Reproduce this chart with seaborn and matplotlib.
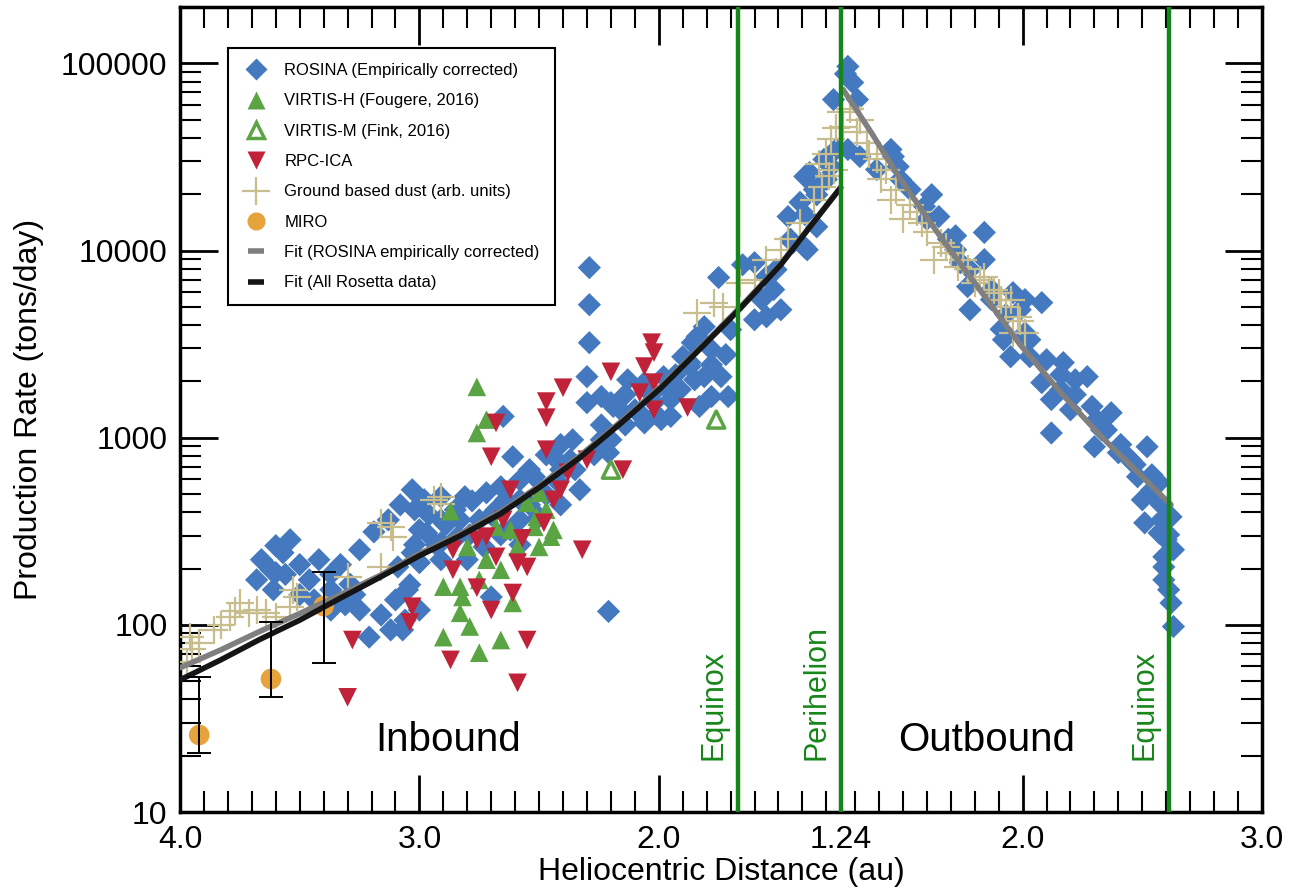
import matplotlib
matplotlib.use("Agg")
import matplotlib.pyplot as plt
import matplotlib.ticker as mticker
from matplotlib.lines import Line2D
import numpy as np
import pandas as pd
import seaborn as sns

# --- data (heliocentric distance r in au, production rate Q in tons/day) ---
PERIHELION = 1.24
EQUINOX_IN = 1.67
EQUINOX_OUT = 2.61

rosina_in_r = [3.68, 3.66, 3.60, 3.54, 3.56, 3.50, 3.44, 3.37, 3.31, 3.25, 3.16, 3.12, 3.21, 3.06, 3.04,
               3.50, 3.42, 3.33, 3.25, 3.19, 3.13, 3.08, 3.03, 2.98, 3.00, 2.93, 3.37, 3.29, 3.57, 3.09,
               3.03, 2.97, 2.91, 2.84, 2.78, 2.72, 2.66, 2.91, 2.61, 2.65, 2.52, 2.44, 2.36, 2.30, 2.29,
               2.24, 2.19, 2.13, 2.08, 1.99, 1.96, 1.87, 1.86, 3.00, 3.05, 3.07, 2.80, 2.73, 2.62, 2.50,
               2.33, 2.21, 2.70, 2.29, 2.29, 1.75, 1.81, 1.78, 1.81, 1.74, 1.78, 2.06, 1.98, 2.20, 2.30,
               2.02, 1.95, 1.84, 1.87, 1.71, 1.83, 2.06, 2.21, 1.90, 1.60, 1.52, 1.49, 1.55, 1.46, 1.41,
               1.39, 1.35, 1.28, 1.38, 1.34, 1.44, 1.55, 1.27, 1.37, 1.39, 1.31, 1.65, 2.85, 2.81, 2.58,
               2.54, 2.47, 2.41, 2.41, 2.24, 2.16, 2.24, 2.37, 2.14, 2.03, 1.93, 2.91, 3.02, 2.68, 2.58,
               3.61, 3.60, 2.89, 2.83, 2.79, 2.70, 2.64, 2.58, 2.54, 2.47, 2.43, 2.39, 2.35, 2.27, 2.20,
               2.14, 2.10, 2.01, 1.95, 1.91, 1.85, 1.78, 1.72, 1.70, 2.75, 2.96, 2.58, 2.41, 2.66, 3.62,
               3.46, 3.37, 3.27, 3.10, 3.00, 2.91, 3.02, 1.57, 1.51, 1.45, 1.39, 1.34, 1.30, 1.26, 1.60]
rosina_in_q = [174, 223, 265, 285, 186, 145, 136, 154, 128, 120, 113, 94, 86, 106, 164,
               210, 223, 210, 252, 314, 364, 438, 527, 466, 322, 268, 186, 165, 243, 204,
               243, 310, 275, 296, 460, 508, 547, 484, 791, 1300, 619, 791, 975, 2120, 3220,
               1660, 1470, 2040, 1360, 1250, 1810, 2520, 3220, 215, 154, 94, 223, 261, 322, 378,
               527, 118, 141, 8110, 5140, 7180, 3920, 2960, 2120, 2120, 1660, 1970, 2120, 1540, 1540,
               1540, 1300, 3470, 2400, 1660, 1470, 1200, 832, 2710, 8620, 6190, 4830, 4430, 15200, 18100,
               24900, 21200, 28100, 10100, 13400, 11000, 7260, 64100, 26100, 10400, 30700, 8400, 412, 484, 594,
               675, 810, 920, 675, 1170, 1410, 975, 763, 1700, 1700, 2170, 364, 412, 412, 466,
               154, 190, 343, 364, 303, 387, 466, 364, 438, 496, 594, 718, 675, 811, 975,
               1170, 1410, 1330, 1600, 1810, 2040, 2455, 2780, 3780, 364, 387, 268, 438, 303, 197,
               174, 120, 145, 136, 120, 223, 268, 5470, 7910, 11500, 15600, 19900, 24000, 34700, 4270]

rosina_out_r = [1.27, 1.29, 1.31, 1.27, 1.32, 1.46, 1.48, 1.49, 1.59, 1.65, 1.69, 1.84, 1.84, 1.74, 1.78,
                1.77, 1.96, 2.08, 1.92, 2.03, 2.01, 1.95, 2.03, 2.08, 2.17, 2.27, 2.12, 2.12, 2.20, 2.29,
                2.37, 2.30, 2.40, 2.52, 2.48, 2.57, 2.51, 2.57, 2.59, 2.62, 2.63, 2.59, 2.62, 2.63, 2.33,
                2.41, 2.45, 2.54, 2.58, 2.60, 2.60, 1.91, 1.87, 2.16, 2.22, 2.50, 1.26, 1.39, 1.45, 1.53,
                1.60, 1.72, 1.78, 1.87, 1.93, 2.01, 2.10, 2.16, 2.22, 2.31, 2.35, 2.43, 2.47, 2.54, 2.56,
                2.58, 2.61, 2.59, 2.61, 1.99, 1.62, 1.72]
rosina_out_q = [96400, 79100, 64100, 34700, 31800, 31800, 28100, 24000, 17200, 15200, 11500, 12500, 8950, 8620, 4830,
                6420, 5960, 5270, 3340, 3340, 5470, 2710, 2710, 1970, 2520, 2120, 1600, 1060, 1410, 1470,
                1360, 895, 832, 895, 619, 575, 351, 310, 231, 378, 252, 204, 131, 98, 1100,
                920, 763, 527, 438, 364, 285, 3800, 5470, 1810, 1700, 466, 88000, 27100, 34700, 21200,
                14700, 10100, 7910, 6190, 4550, 3640, 2610, 2175, 2040, 1250, 1100, 810, 718, 634, 466,
                364, 303, 174, 154, 4830, 19900, 12000]

virtis_h_r = [2.76, 2.72, 2.76, 2.87, 2.50, 2.55, 2.47, 2.68, 2.62, 2.52, 2.45, 2.80, 2.72, 2.66,
              2.75, 2.83, 2.90, 2.82, 2.61, 2.83, 2.79, 2.90, 2.66, 2.75, 2.50, 2.59, 2.51, 2.44]
virtis_h_q = [1870, 1250, 1060, 405, 508, 449, 412, 334, 322, 334, 296, 261, 223, 197,
              174, 160, 160, 141, 131, 116, 98, 86, 83, 71, 261, 261, 378, 322]

virtis_m_r = [2.20, 1.76]
virtis_m_q = [675, 1250]

rpc_ica_r = [2.03, 2.02, 2.06, 2.20, 2.40, 2.47, 2.47, 2.68, 2.70, 2.47, 2.30, 2.38, 2.15, 2.02,
             1.88, 2.08, 2.02, 2.62, 2.41, 2.44, 2.65, 2.57, 2.48, 2.76, 2.72, 2.68, 2.59, 2.55,
             2.86, 2.86, 2.76, 2.61, 2.70, 3.03, 3.04, 2.55, 2.87, 2.32, 2.59, 3.28, 3.30]
rpc_ica_q = [3220, 2850, 2400, 2250, 1850, 1560, 1280, 1200, 791, 863, 763, 650, 675, 1410,
             1450, 1740, 1970, 527, 527, 466, 364, 290, 351, 285, 296, 231, 215, 204,
             252, 197, 158, 148, 120, 125, 103, 83, 65, 252, 49, 83, 41]

dust_in_r = [3.96, 3.92, 3.86, 3.79, 3.75, 3.68, 3.64, 3.60, 3.71, 3.53, 3.51, 3.54, 3.30, 3.16,
             3.12, 3.11, 3.16, 2.94, 2.91, 3.95, 3.97, 2.91, 1.84, 1.77, 1.73, 1.66, 1.60, 1.55,
             1.49, 1.46, 1.41, 1.35, 1.29, 1.27, 1.32, 1.28, 3.83, 3.77, 1.26, 1.30, 1.33]
dust_in_q = [86, 80, 94, 110, 131, 120, 116, 110, 116, 154, 141, 125, 181, 351,
             334, 296, 204, 466, 484, 74, 63, 440, 4660, 5270, 5020, 6750, 7000, 8950,
             10100, 11500, 14100, 18700, 24900, 27100, 22000, 39300, 100, 118, 45000, 33000, 29000]

dust_out_r = [1.24, 1.25, 1.31, 1.35, 1.39, 1.41, 1.50, 1.56, 1.60, 1.63, 1.70, 1.73, 1.80, 1.86,
              1.91, 1.98, 1.96, 1.75, 1.84, 1.88, 1.95, 2.01, 1.45, 1.32, 1.28, 1.36, 1.43, 1.47,
              1.53, 1.58, 1.66, 1.68, 1.77, 1.82, 1.93, 1.99, 1.90]
dust_out_q = [54700, 46000, 42800, 37800, 30700, 24000, 14700, 16000, 12500, 8950, 9750, 8210, 6750, 6190,
              5470, 4430, 3640, 8950, 7260, 6190, 5470, 3640, 18700, 50000, 57000, 33000, 27000, 21000,
              17500, 14000, 11000, 10500, 8000, 7000, 5000, 4200, 5900]

miro_r = [3.92, 3.62, 3.40]
miro_q = [25.8, 51.4, 126]
miro_lo = [20.7, 41.2, 62.7]
miro_hi = [52.7, 104, 192]

fit_all_r = [4.00, 3.83, 3.67, 3.50, 3.33, 3.16, 3.00, 2.83, 2.66, 2.50, 2.33, 2.16, 1.99, 1.83,
             1.66, 1.49, 1.37, 1.24]
fit_all_q = [50.8, 65.0, 83.2, 106, 139, 181, 234, 299, 393, 541, 782, 1190, 1850, 2960,
             4900, 8410, 13300, 21700]

fit_rosina_in_r = [4.00, 3.83, 3.67, 3.50, 3.33, 3.16, 3.00, 2.83, 2.66, 2.50, 2.33, 2.16, 1.99, 1.83,
                   1.66, 1.49, 1.37, 1.24]
fit_rosina_in_q = [59, 73.5, 91.9, 115, 145, 185, 240, 307, 403, 552, 800, 1215, 1890, 3010,
                   4980, 8500, 13400, 21800]
fit_rosina_out_r = [1.25, 1.37, 1.49, 1.66, 1.83, 1.99, 2.16, 2.33, 2.50, 2.62]
fit_rosina_out_q = [72600, 42300, 24000, 11700, 5960, 3140, 1740, 1010, 619, 438]

# colours
BLUE = "#4479BF"
GREEN = "#5BA443"
RED = "#C0223A"
TAN = "#C8BD8C"
ORANGE = "#E6A33B"
LINE_GREEN = "#17861A"
FONT = ["Liberation Sans", "DejaVu Sans"]


def inbound(r):
    return PERIHELION - np.asarray(r, float)


def outbound(r):
    return np.asarray(r, float) - PERIHELION


sns.set_style("ticks")
plt.rcParams["font.family"] = FONT
for key in ["text.color", "axes.labelcolor", "xtick.color", "ytick.color", "axes.edgecolor"]:
    plt.rcParams[key] = "black"

fig, ax = plt.subplots(figsize=(12.99, 8.89), dpi=100)
fig.subplots_adjust(left=0.1386, right=0.9715, bottom=0.0866, top=0.992)

rosina = pd.DataFrame({"x": np.concatenate([inbound(rosina_in_r), outbound(rosina_out_r)]),
                       "q": rosina_in_q + rosina_out_q})
dust = pd.DataFrame({"x": np.concatenate([inbound(dust_in_r), outbound(dust_out_r)]),
                     "q": dust_in_q + dust_out_q})

sns.scatterplot(data=rosina, x="x", y="q", marker="D", s=140, color=BLUE,
                edgecolor="none", ax=ax, zorder=2, legend=False)
sns.scatterplot(data=dust, x="x", y="q", marker="+", s=400, color=TAN,
                linewidth=1.6, ax=ax, zorder=3, legend=False)
sns.scatterplot(x=inbound(virtis_h_r), y=virtis_h_q, marker="^", s=180, color=GREEN,
                edgecolor="none", ax=ax, zorder=4, legend=False)
sns.scatterplot(x=inbound(rpc_ica_r), y=rpc_ica_q, marker="v", s=180, color=RED,
                edgecolor="none", ax=ax, zorder=4, legend=False)
sns.scatterplot(x=inbound(virtis_m_r), y=virtis_m_q, marker="^", s=150, color=GREEN,
                edgecolor=GREEN, linewidth=2.5, ax=ax, zorder=4, legend=False)
ax.collections[-1].set_facecolor("none")
sns.scatterplot(x=inbound(miro_r), y=miro_q, marker="o", s=220, color=ORANGE,
                edgecolor="none", ax=ax, zorder=4, legend=False)
ax.errorbar(inbound(miro_r), miro_q,
            yerr=[np.array(miro_q) - np.array(miro_lo), np.array(miro_hi) - np.array(miro_q)],
            fmt="none", ecolor="black", elinewidth=1.4, capsize=8.5, capthick=1.4, zorder=7)

# fits
sns.lineplot(x=inbound(fit_rosina_in_r), y=fit_rosina_in_q, color="#7f7f7f", linewidth=4,
             sort=False, estimator=None, ax=ax, zorder=5)
sns.lineplot(x=outbound(fit_rosina_out_r), y=fit_rosina_out_q, color="#7f7f7f", linewidth=4,
             sort=False, estimator=None, ax=ax, zorder=5)
sns.lineplot(x=inbound(fit_all_r), y=fit_all_q, color="#151515", linewidth=4,
             sort=False, estimator=None, ax=ax, zorder=5)

# events
for xv in [inbound(EQUINOX_IN), 0.0, outbound(EQUINOX_OUT)]:
    ax.axvline(xv, color=LINE_GREEN, lw=3.2, zorder=6)
trans = ax.get_xaxis_transform()
ax.text(inbound(EQUINOX_IN) - 0.1, 0.065, "Equinox", rotation=90, color=LINE_GREEN,
        fontsize=22, ha="center", va="bottom", transform=trans)
ax.text(-0.1, 0.065, "Perihelion", rotation=90, color=LINE_GREEN,
        fontsize=22, ha="center", va="bottom", transform=trans)
ax.text(outbound(EQUINOX_OUT) - 0.1, 0.065, "Equinox", rotation=90, color=LINE_GREEN,
        fontsize=22, ha="center", va="bottom", transform=trans)
ax.text(inbound(2.88), 24.3, "Inbound", fontsize=29, ha="center", va="center")
ax.text(outbound(1.85), 24.3, "Outbound", fontsize=29, ha="center", va="center")

# axes
ax.set_yscale("log")
ax.set_ylim(10, 2.0e5)
ax.set_xlim(inbound(4.0), outbound(3.0))

major_in = [4.0, 3.0, 2.0, 1.24]
major_out = [2.0, 3.0]
ax.set_xticks(np.concatenate([inbound(major_in), outbound(major_out)]))
ax.set_xticklabels(["4.0", "3.0", "2.0", "1.24", "2.0", "3.0"])
minor_in = [v for v in np.round(np.arange(1.3, 4.0, 0.1), 2) if v not in (2.0, 3.0)]
minor_out = [v for v in np.round(np.arange(1.3, 3.0, 0.1), 2) if v != 2.0]
ax.set_xticks(np.concatenate([inbound(minor_in), outbound(minor_out)]), minor=True)

decades = [10, 100, 1000, 10000, 100000]
ax.yaxis.set_major_locator(mticker.FixedLocator(decades))
ax.yaxis.set_major_formatter(mticker.FixedFormatter([str(d) for d in decades]))
ax.yaxis.set_minor_locator(mticker.LogLocator(base=10, subs=range(2, 10), numticks=20))
ax.yaxis.set_minor_formatter(mticker.NullFormatter())

ax.tick_params(which="major", direction="in", length=27, width=2, top=True, right=True)
ax.tick_params(which="minor", direction="in", length=15, width=1.5, top=True, right=True)
ax.tick_params(axis="x", labelsize=23, pad=9)
ax.tick_params(axis="y", labelsize=23, pad=9)
for sp in ax.spines.values():
    sp.set_linewidth(2.5)
    sp.set_visible(True)

ax.set_xlabel("Heliocentric Distance (au)", fontsize=23, labelpad=2)
ax.set_ylabel("Production Rate (tons/day)", fontsize=23, labelpad=12)

handles = [
    Line2D([], [], ls="none", marker="D", ms=11, color=BLUE, mec="none"),
    Line2D([], [], ls="none", marker="^", ms=13, color=GREEN, mec="none"),
    Line2D([], [], ls="none", marker="^", ms=12, mfc="none", mec=GREEN, mew=2.5),
    Line2D([], [], ls="none", marker="v", ms=13, color=RED, mec="none"),
    Line2D([], [], ls="none", marker="+", ms=20, color=TAN, mew=1.6),
    Line2D([], [], ls="none", marker="o", ms=13, color=ORANGE, mec="none"),
    Line2D([], [], ls="none", marker="_", ms=11, color="#7f7f7f", mew=4),
    Line2D([], [], ls="none", marker="_", ms=11, color="#151515", mew=4),
]
labels = ["ROSINA (Empirically corrected)", "VIRTIS-H (Fougere, 2016)", "VIRTIS-M (Fink, 2016)",
          "RPC-ICA", "Ground based dust (arb. units)", "MIRO",
          "Fit (ROSINA empirically corrected)", "Fit (All Rosetta data)"]
leg = ax.legend(handles, labels, loc="upper left", bbox_to_anchor=(0.044, 0.949),
                borderaxespad=0, frameon=True, fancybox=False, framealpha=1,
                edgecolor="black", prop={"family": FONT, "size": 12},
                labelspacing=0.92, handletextpad=0.9, borderpad=0.9, handlelength=1.6)
leg.get_frame().set_linewidth(1.5)
leg.set_zorder(10)

plt.savefig("out.png", dpi=100)
